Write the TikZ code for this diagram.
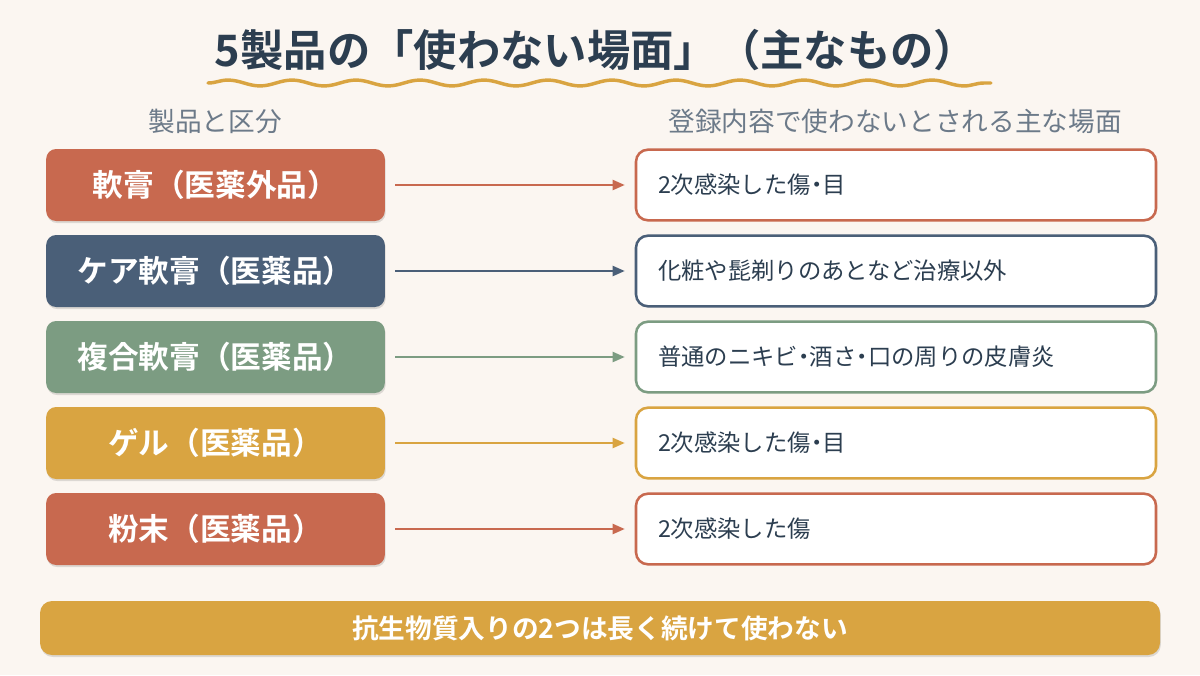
\documentclass[tikz,border=0pt]{standalone}
\usepackage{fontspec}
\setmainfont{Noto Sans CJK JP}[BoldFont={Noto Sans CJK JP Bold}]
\usetikzlibrary{arrows.meta, positioning, decorations.pathmorphing, shadows}

\definecolor{bgcream}{HTML}{FBF6F1}
\definecolor{inknavy}{HTML}{2C3E50}
\definecolor{headgray}{HTML}{6C7A89}
\definecolor{terra}{HTML}{C8694F}
\definecolor{slate}{HTML}{4A5F78}
\definecolor{sage}{HTML}{7C9C82}
\definecolor{gold}{HTML}{D9A441}

% narrow middle dot
\newcommand{\ndot}{{\addfontfeatures{RawFeature=+palt}・}}

\begin{document}
\begin{tikzpicture}[
    x=0.75pt, y=-0.75pt,
    prod/.style={rounded corners=7.5pt, minimum width=254pt, minimum height=54pt,
        text=white, font=\bfseries\fontsize{23}{27}\selectfont,
        drop shadow={fill=black, opacity=0.12, shadow xshift=0.6pt, shadow yshift=-1.5pt}},
    scene/.style={draw, line width=1.9pt, fill=white, rounded corners=9pt,
        minimum width=390pt, minimum height=53pt, text width=357pt, inner xsep=16.5pt,
        align=left, text=inknavy, font=\fontsize{17.5}{21}\selectfont},
    arrow/.style={-{Triangle[length=9pt, width=7.5pt]}, line width=1.5pt,
        shorten <=7.5pt, shorten >=7.5pt},
    head/.style={text=headgray, font=\fontsize{20}{24}\selectfont},
    wave/.style={draw=gold, line width=2.6pt, line cap=round,
        decorate, decoration={snake, amplitude=2.2pt, segment length=48pt}}
]
    % page
    \fill[bgcream] (0,0) rectangle (1200,675);
    \useasboundingbox (0,0) rectangle (1200,675);

    % Title
    \node[text=inknavy, font=\bfseries\fontsize{32.5}{38}\selectfont] (title) at (596,50)
        {5製品の「使わない場面」（主なもの）};
    \coordinate (wave_l) at (208,83);
    \coordinate (wave_r) at (991,83);
    \draw[wave] (wave_l) -- (wave_r);

    % Column heads
    \node[head] (head_prod) at (215,121) {製品と区分};
    \node[head] (head_scene) at (895,121) {登録内容で使わないとされる主な場面};

    % r0
    \node[prod, fill=terra] (prod0) at (215.5,185) {軟膏（医薬外品）};
    \node[scene, draw=terra] (scene0) at (896,185) {2次感染した傷\ndot 目};
    \draw[arrow, terra] (prod0) -- (scene0);

    % r1
    \node[prod, fill=slate] (prod1) at (215.5,271) {ケア軟膏（医薬品）};
    \node[scene, draw=slate] (scene1) at (896,271) {化粧や髭剃りのあとなど治療以外};
    \draw[arrow, slate] (prod1) -- (scene1);

    % r2
    \node[prod, fill=sage] (prod2) at (215.5,357) {複合軟膏（医薬品）};
    \node[scene, draw=sage] (scene2) at (896,357) {普通のニキビ\ndot 酒さ\ndot 口の周りの皮膚炎};
    \draw[arrow, sage] (prod2) -- (scene2);

    % r3
    \node[prod, fill=gold] (prod3) at (215.5,443) {ゲル（医薬品）};
    \node[scene, draw=gold] (scene3) at (896,443) {2次感染した傷\ndot 目};
    \draw[arrow, gold] (prod3) -- (scene3);

    % r4
    \node[prod, fill=terra] (prod4) at (215.5,529) {粉末（医薬品）};
    \node[scene, draw=terra] (scene4) at (896,529) {2次感染した傷};
    \draw[arrow, terra] (prod4) -- (scene4);

    % Bottom note
    \node[fill=gold, rounded corners=9pt, minimum width=840pt, minimum height=40.5pt,
        text=white, font=\bfseries\fontsize{20}{24}\selectfont,
        drop shadow={fill=black, opacity=0.12, shadow xshift=0.6pt, shadow yshift=-1.5pt}]
        (note) at (600,628) {抗生物質入りの2つは長く続けて使わない};

\end{tikzpicture}
\end{document}
